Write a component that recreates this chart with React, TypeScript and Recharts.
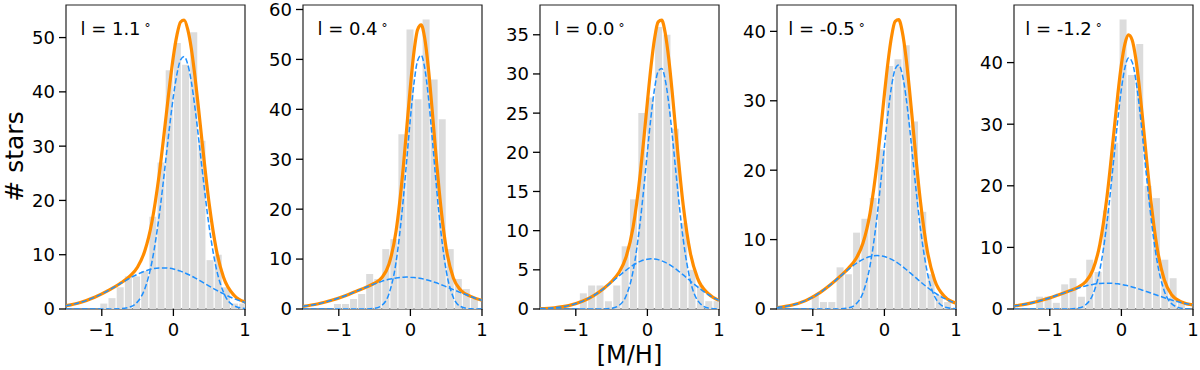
import React from "react";
import { ComposedChart, Bar, Line, XAxis, YAxis, ReferenceArea } from "recharts";

// x grid for the fitted curves
const curveX = [-1.5, -1.3, -1.1, -0.9, -0.75, -0.6, -0.5, -0.4, -0.3, -0.2, -0.1, -0.05, 0, 0.05, 0.1, 0.15, 0.2, 0.25, 0.3, 0.35, 0.4, 0.5, 0.6, 0.7, 0.85, 1.0];

// l = 1.1
const binsP1 = [-1.428, -1.314, -1.2, -1.086, -0.972, -0.858, -0.743, -0.629, -0.515, -0.401, -0.287, -0.173, -0.059, 0.055, 0.17, 0.284, 0.398, 0.512, 0.626, 0.74, 0.854, 0.968];
const countsP1 = [0, 0, 0, 0, 1, 2, 4, 6, 6, 7, 17, 27, 44, 49, 45, 51, 31, 9, 10, 4, 1, 1];
const totalP1 = [0.6, 1.21, 2.17, 3.48, 4.66, 6.14, 7.74, 10.67, 16.03, 24.62, 35.77, 41.49, 46.57, 50.49, 52.87, 53.21, 51.51, 47.99, 42.94, 37.07, 30.89, 19.33, 10.89, 5.85, 2.48, 1.29];
const broadP1 = [0.6, 1.21, 2.17, 3.48, 4.61, 5.74, 6.41, 6.97, 7.37, 7.57, 7.57, 7.49, 7.37, 7.19, 6.97, 6.71, 6.41, 6.09, 5.74, 5.37, 4.99, 4.23, 3.48, 2.79, 1.9, 1.21];
const narrowP1 = [0, 0, 0, 0, 0.05, 0.4, 1.33, 3.7, 8.66, 17.05, 28.2, 34.0, 39.2, 43.3, 45.9, 46.5, 45.1, 41.9, 37.2, 31.7, 25.9, 15.1, 7.41, 3.06, 0.58, 0.08];

// l = 0.4
const binsP2 = [-1.47, -1.357, -1.245, -1.132, -1.02, -0.907, -0.795, -0.682, -0.57, -0.457, -0.345, -0.232, -0.12, -0.007, 0.105, 0.218, 0.33, 0.443, 0.555, 0.668, 0.78, 0.893];
const countsP2 = [0, 0, 0, 0, 1, 1, 2, 3, 7, 6, 12, 14, 35, 56, 42, 58, 46, 38, 12, 6, 4, 2];
const totalP2 = [0.53, 1.01, 1.74, 2.72, 3.58, 4.49, 5.17, 6.26, 8.95, 15.63, 28.32, 36.44, 44.61, 51.54, 55.95, 56.93, 54.23, 48.4, 40.56, 32.02, 24.0, 12.14, 6.19, 3.81, 2.48, 1.74];
const broadP2 = [0.53, 1.01, 1.74, 2.72, 3.58, 4.47, 5.04, 5.54, 5.94, 6.23, 6.38, 6.4, 6.38, 6.32, 6.23, 6.1, 5.94, 5.75, 5.54, 5.3, 5.04, 4.47, 3.88, 3.29, 2.45, 1.74];
const narrowP2 = [0, 0, 0, 0, 0, 0.02, 0.13, 0.72, 3.01, 9.4, 21.94, 30.04, 38.23, 45.22, 49.72, 50.83, 48.29, 42.65, 35.02, 26.72, 18.96, 7.67, 2.31, 0.52, 0.03, 0];

// l = 0.0
const binsP3 = [-1.362, -1.245, -1.128, -1.011, -0.894, -0.778, -0.661, -0.544, -0.427, -0.31, -0.194, -0.077, 0.04, 0.157, 0.274, 0.39, 0.507, 0.624, 0.741, 0.858, 0.974];
const countsP3 = [0, 0, 0, 0, 2, 3, 3, 1, 3, 8, 14, 25, 27, 36, 35, 23, 11, 5, 3, 1, 1];
const totalP3 = [0.05, 0.16, 0.43, 1.01, 1.72, 2.69, 3.51, 4.62, 6.57, 10.42, 17.24, 21.7, 26.43, 30.93, 34.52, 36.63, 36.86, 35.17, 31.81, 27.33, 22.36, 13.26, 7.15, 3.94, 1.96, 1.1];
const broadP3 = [0.05, 0.16, 0.43, 1.01, 1.72, 2.68, 3.42, 4.19, 4.94, 5.59, 6.08, 6.25, 6.35, 6.4, 6.38, 6.3, 6.15, 5.95, 5.7, 5.41, 5.08, 4.35, 3.57, 2.82, 1.84, 1.09];
const narrowP3 = [0, 0, 0, 0, 0, 0.01, 0.09, 0.43, 1.63, 4.83, 11.16, 15.45, 20.08, 24.53, 28.14, 30.33, 30.71, 29.22, 26.11, 21.92, 17.28, 8.91, 3.58, 1.12, 0.12, 0.01];

// l = -0.5
const binsP4 = [-1.427, -1.312, -1.196, -1.081, -0.965, -0.85, -0.734, -0.619, -0.503, -0.388, -0.272, -0.157, -0.041, 0.074, 0.19, 0.305, 0.421, 0.536, 0.652, 0.767, 0.883, 0.998];
const countsP4 = [0, 0, 0, 0, 2, 1, 1, 6, 5, 11, 13, 16, 23, 35, 36, 38, 27, 14, 5, 2, 1, 0];
const totalP4 = [0.21, 0.54, 1.21, 2.36, 3.53, 4.88, 5.89, 7.2, 9.46, 13.84, 21.27, 25.98, 30.94, 35.57, 39.26, 41.43, 41.68, 39.93, 36.42, 31.62, 26.2, 15.8, 8.34, 4.2, 1.7, 0.84];
const broadP4 = [0.21, 0.54, 1.21, 2.36, 3.53, 4.85, 5.73, 6.52, 7.15, 7.56, 7.7, 7.66, 7.56, 7.39, 7.15, 6.86, 6.52, 6.14, 5.73, 5.29, 4.85, 3.96, 3.11, 2.36, 1.45, 0.82];
const narrowP4 = [0, 0, 0, 0, 0, 0.03, 0.16, 0.68, 2.31, 6.28, 13.57, 18.32, 23.38, 28.18, 32.11, 34.57, 35.16, 33.79, 30.69, 26.33, 21.35, 11.84, 5.23, 1.84, 0.25, 0.02];

// l = -1.2
const binsP5 = [-1.374, -1.257, -1.141, -1.024, -0.908, -0.791, -0.675, -0.558, -0.442, -0.325, -0.209, -0.092, 0.024, 0.141, 0.257, 0.374, 0.49, 0.607, 0.723, 0.84, 0.956];
const countsP5 = [0, 0, 2, 2, 1, 4, 5, 2, 8, 6, 16, 27, 47, 38, 43, 20, 18, 8, 5, 1, 0];
const totalP5 = [0.47, 0.87, 1.46, 2.22, 2.84, 3.57, 4.42, 6.31, 10.55, 18.35, 29.25, 34.85, 39.7, 43.08, 44.5, 43.67, 40.73, 36.1, 30.44, 24.45, 18.78, 9.85, 4.72, 2.34, 1.1, 0.66];
const broadP5 = [0.47, 0.87, 1.46, 2.22, 2.83, 3.41, 3.74, 3.99, 4.15, 4.2, 4.15, 4.08, 3.99, 3.87, 3.74, 3.58, 3.41, 3.23, 3.03, 2.83, 2.63, 2.22, 1.83, 1.46, 1.0, 0.65];
const narrowP5 = [0, 0, 0, 0, 0.01, 0.16, 0.68, 2.32, 6.4, 14.15, 25.1, 30.77, 35.71, 39.21, 40.76, 40.09, 37.32, 32.87, 27.41, 21.62, 16.15, 7.63, 2.89, 0.88, 0.1, 0.01];

const labels = ["1.1", "0.4", "0.0", "-0.5", "-1.2"];
const yMaxes = [56, 60.9, 38.8, 43.8, 49.35];
const yTicksList = [
  [0, 10, 20, 30, 40, 50],
  [0, 10, 20, 30, 40, 50, 60],
  [0, 5, 10, 15, 20, 25, 30, 35],
  [0, 10, 20, 30, 40],
  [0, 10, 20, 30, 40],
];
const xTicks = [-1, 0, 1];

const panelLeft = [66, 303, 540, 777, 1014];
const plotW = 179;
const yAxisW = 60;

const makeBins = (centers: number[], counts: number[]) =>
  centers.map((x, i) => ({ x, n: counts[i] }));
const makeCurve = (total: number[], broad: number[], narrow: number[]) =>
  curveX.map((x, i) => ({ x, total: total[i], broad: broad[i], narrow: narrow[i] }));

const panels = [
  { bins: makeBins(binsP1, countsP1), curve: makeCurve(totalP1, broadP1, narrowP1) },
  { bins: makeBins(binsP2, countsP2), curve: makeCurve(totalP2, broadP2, narrowP2) },
  { bins: makeBins(binsP3, countsP3), curve: makeCurve(totalP3, broadP3, narrowP3) },
  { bins: makeBins(binsP4, countsP4), curve: makeCurve(totalP4, broadP4, narrowP4) },
  { bins: makeBins(binsP5, countsP5), curve: makeCurve(totalP5, broadP5, narrowP5) },
];

const font = "DejaVu Sans, sans-serif";
const tickStyle = { fill: "#000", fontSize: 18, fontFamily: font };
const fmtX = (v: number) => (v < 0 ? `\u2212${-v}` : `${v}`);

function Panel({ idx }: { idx: number }) {
  const p = panels[idx];
  const yMax = yMaxes[idx];
  return (
    <div style={{ position: "absolute", left: panelLeft[idx] - yAxisW, top: 0 }}>
      <ComposedChart
        width={yAxisW + plotW + 6}
        height={340}
        data={p.bins}
        margin={{ top: 5, right: 6, bottom: 0, left: 0 }}
        barCategoryGap={0.6}
      >
        <XAxis
          xAxisId="bins"
          dataKey="x"
          type="number"
          domain={[-1.5, 1]}
          ticks={xTicks}
          interval={0}
          allowDataOverflow
          height={31}
          tickSize={7}
          tickMargin={7}
          axisLine={false}
          tickLine={{ stroke: "#000", strokeWidth: 1.3 }}
          tick={tickStyle}
          tickFormatter={fmtX}
        />
        <XAxis xAxisId="curve" dataKey="x" type="number" domain={[-1.5, 1]} allowDataOverflow hide />
        <YAxis
          type="number"
          domain={[0, yMax]}
          ticks={yTicksList[idx]}
          interval={0}
          allowDataOverflow
          width={yAxisW}
          tickSize={7}
          tickMargin={4}
          axisLine={false}
          tickLine={{ stroke: "#000", strokeWidth: 1.3 }}
          tick={tickStyle}
        />
        <Bar xAxisId="bins" dataKey="n" fill="#dcdcdc" isAnimationActive={false} />
        <Line
          xAxisId="curve"
          data={p.curve}
          dataKey="total"
          type="monotone"
          stroke="#ff8c00"
          strokeWidth={3.2}
          dot={false}
          isAnimationActive={false}
        />
        <Line
          xAxisId="curve"
          data={p.curve}
          dataKey="broad"
          type="monotone"
          stroke="#1e90ff"
          strokeWidth={1.5}
          strokeDasharray="5.5 2.5"
          dot={false}
          isAnimationActive={false}
        />
        <Line
          xAxisId="curve"
          data={p.curve}
          dataKey="narrow"
          type="monotone"
          stroke="#1e90ff"
          strokeWidth={1.5}
          strokeDasharray="5.5 2.5"
          dot={false}
          isAnimationActive={false}
        />
        <ReferenceArea
          xAxisId="bins"
          x1={-1.5}
          x2={1}
          y1={0}
          y2={yMax}
          fill="none"
          fillOpacity={0}
          stroke="#222"
          strokeWidth={1.2}
          ifOverflow="visible"
        />
      </ComposedChart>
    </div>
  );
}

export default function App() {
  return (
    <div
      style={{
        position: "absolute",
        left: 0,
        top: 0,
        width: 1200,
        height: 370,
        background: "#fff",
        overflow: "hidden",
      }}
    >
      {panels.map((_, i) => (
        <Panel key={i} idx={i} />
      ))}
      <svg
        width={1200}
        height={370}
        style={{ position: "absolute", left: 0, top: 0, pointerEvents: "none" }}
      >
        {labels.map((l, i) => (
          <text
            key={l}
            x={panelLeft[i] + 49.5}
            y={35}
            textAnchor="middle"
            fontSize={18}
            fontFamily={font}
            fill="#000"
          >
            {`l = ${l}`}
            <tspan dx={4} dy={-3} fontSize={12}>
              °
            </tspan>
          </text>
        ))}
        <text x={629.5} y={363} textAnchor="middle" fontSize={24} fontFamily={font} fill="#000">
          [M/H]
        </text>
        <text
          transform="translate(23,156.5) rotate(-90)"
          textAnchor="middle"
          fontSize={25}
          fontFamily={font}
          fill="#000"
        >
          # stars
        </text>
      </svg>
    </div>
  );
}
